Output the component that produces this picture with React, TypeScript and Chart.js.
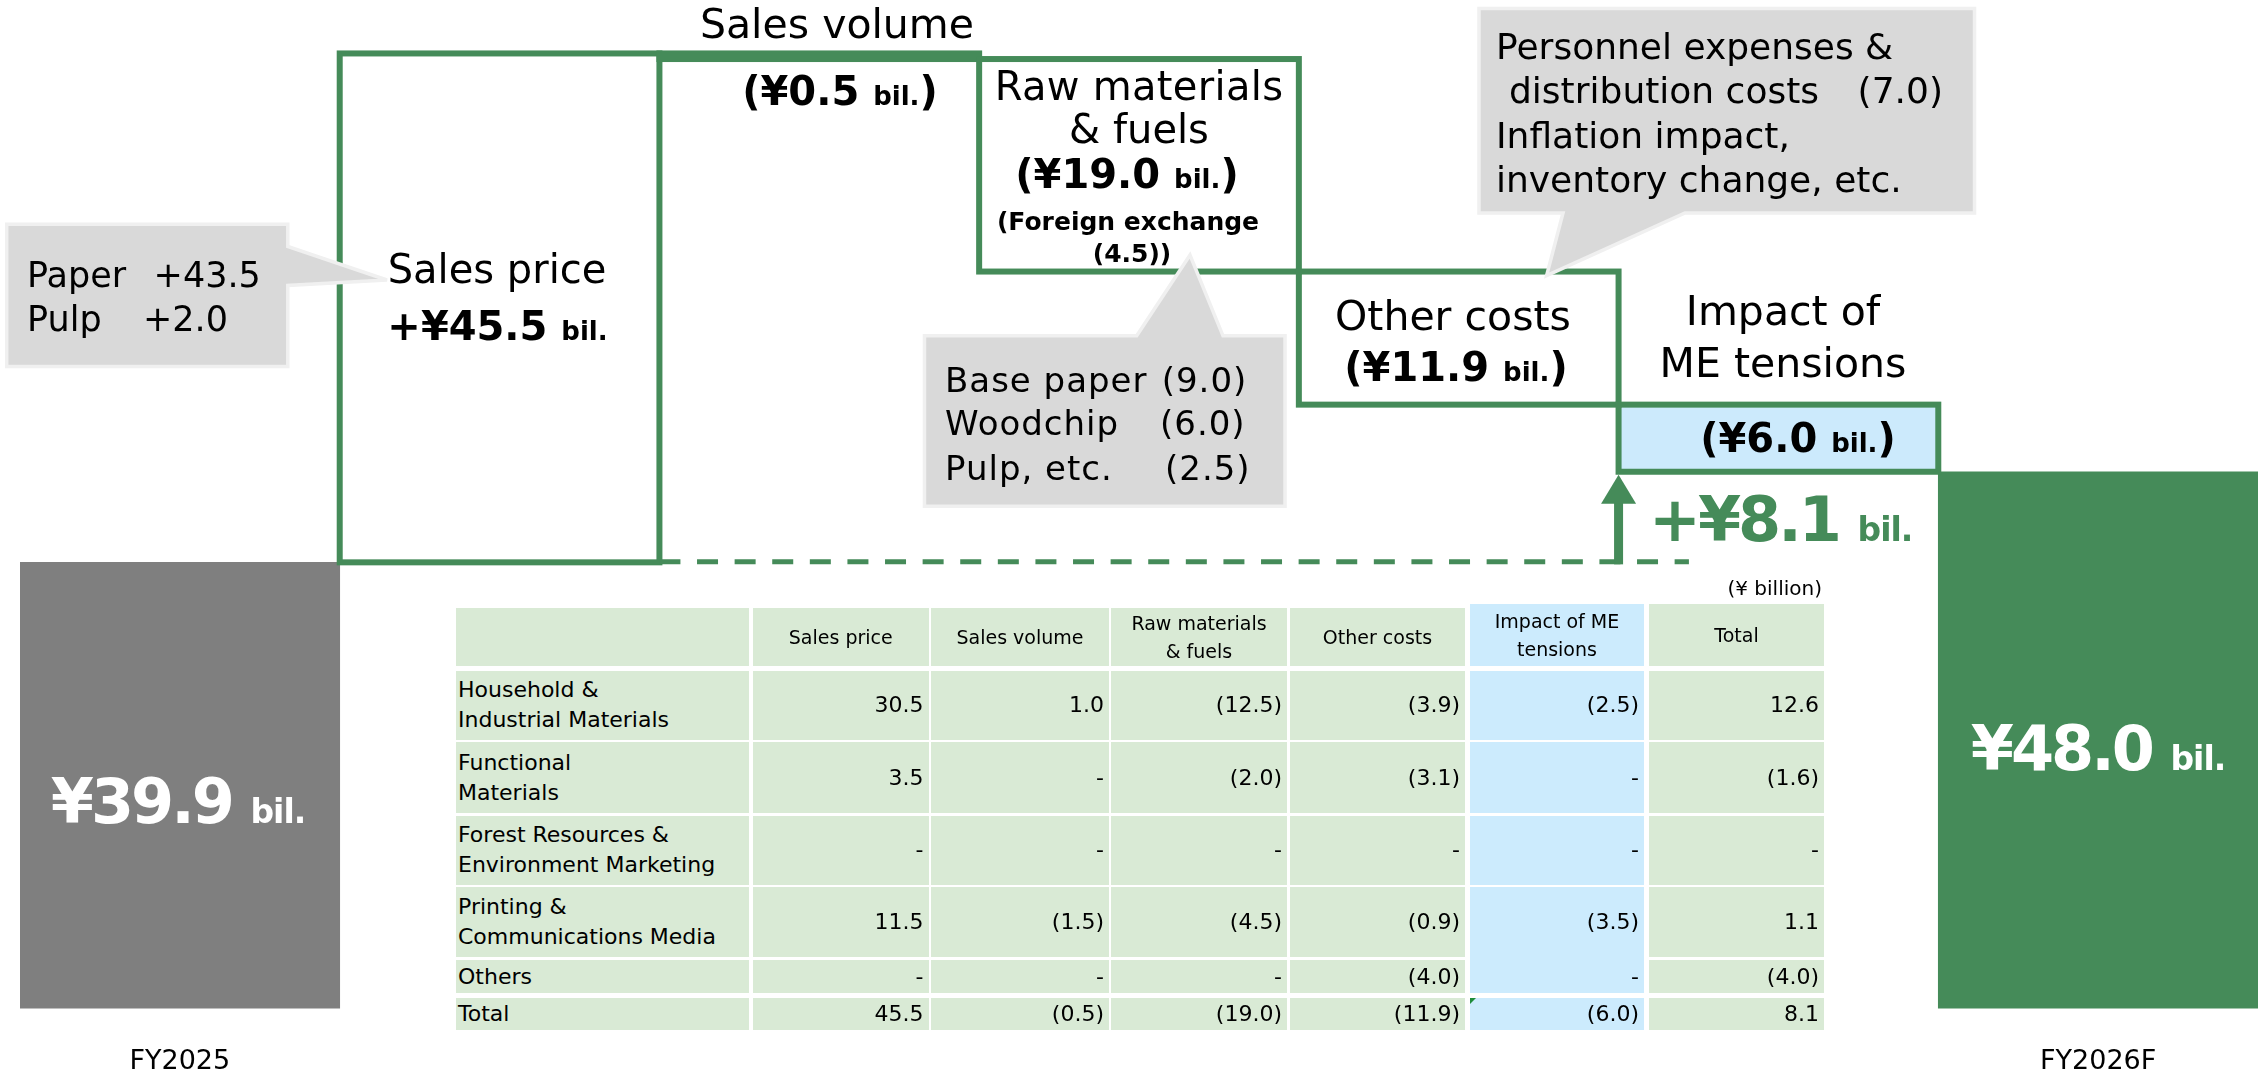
import React, { useEffect, useRef } from "react";
import { Chart, registerables } from "chart.js";

Chart.register(...registerables);

// ---------- data ----------
const categories = ["FY2025", "Sales price", "Sales volume", "Raw materials & fuels", "Other costs", "Impact of ME tensions", "FY2026F"];
const tickLabels = ["FY2025", "", "", "", "", "", "FY2026F"];
const startValue = 39.9;
const deltas = [45.5, -0.5, -19.0, -11.9, -6.0];
const endValue = 48.0;

const segmentNames = [
  "Household &\nIndustrial Materials",
  "Functional\nMaterials",
  "Forest Resources &\nEnvironment Marketing",
  "Printing &\nCommunications Media",
  "Others",
  "Total",
];
const tableHeaders = ["", "Sales price", "Sales volume", "Raw materials\n& fuels", "Other costs", "Impact of ME\ntensions", "Total"];
const salesPriceCol = [30.5, 3.5, null, 11.5, null, 45.5];
const salesVolumeCol = [1.0, null, null, -1.5, null, -0.5];
const rawMaterialsCol = [-12.5, -2.0, null, -4.5, null, -19.0];
const otherCostsCol = [-3.9, -3.1, null, -0.9, -4.0, -11.9];
const meTensionsCol = [-2.5, null, null, -3.5, null, -6.0];
const totalCol = [12.6, -1.6, null, 1.1, -4.0, 8.1];

// ---------- styles ----------
const GREEN = "#458b59";
const GRAY = "#7f7f7f";
const LIGHT_BLUE = "#cceafc";
const TABLE_GREEN = "#d9ead5";
const TABLE_BLUE = "#ccebfd";
const FONT = "'DejaVu Sans', sans-serif";
const barColors = [GRAY, "#ffffff", "#ffffff", "#ffffff", "#ffffff", LIGHT_BLUE, GREEN];
const outlined = [false, true, true, true, true, true, false];

function buildBars(): [number, number][] {
  const out: [number, number][] = [[0, startValue]];
  let cur = startValue;
  for (const d of deltas) {
    const a = cur;
    cur = Math.round((cur + d) * 10) / 10;
    out.push([Math.min(a, cur), Math.max(a, cur)]);
  }
  out.push([0, endValue]);
  return out;
}

const decoPlugin = {
  id: "waterfallDeco",
  afterDatasetsDraw(chart: any) {
    const ctx = chart.ctx;
    const meta = chart.getDatasetMeta(0);
    const ys = chart.scales.y;
    const props = (el: any) => el.getProps(["x", "y", "base", "width"], true);
    ctx.save();
    ctx.strokeStyle = GREEN;
    ctx.lineWidth = 6;
    meta.data.forEach((el: any, i: number) => {
      if (!outlined[i]) return;
      const p = props(el);
      const t = Math.min(p.y, p.base);
      const b = Math.max(p.y, p.base);
      ctx.strokeRect(p.x - p.width / 2, t, p.width, b - t);
    });
    // dashed base-level line
    const lvl = ys.getPixelForValue(startValue) - 0.5;
    const sp = props(meta.data[1]);
    const me = props(meta.data[5]);
    const xStart = sp.x + sp.width / 2;
    const meLeft = me.x - me.width / 2;
    const xEnd = meLeft + me.width * 0.22;
    ctx.setLineDash([21, 16.6]);
    ctx.lineWidth = 5;
    ctx.beginPath();
    ctx.moveTo(xStart, lvl);
    ctx.lineTo(xEnd, lvl);
    ctx.stroke();
    ctx.setLineDash([]);
    // arrow
    const tip = ys.getPixelForValue(endValue) + 3;
    const headH = 29;
    ctx.fillStyle = GREEN;
    ctx.fillRect(meLeft - 4.5, tip + headH - 1, 9, lvl + 2.5 - (tip + headH - 1));
    ctx.beginPath();
    ctx.moveTo(meLeft, tip);
    ctx.lineTo(meLeft + 17.5, tip + headH);
    ctx.lineTo(meLeft - 17.5, tip + headH);
    ctx.closePath();
    ctx.fill();
    ctx.restore();
  },
};

// ---------- text helpers ----------
type Piece = { t: string; size: number; bold?: boolean; ls?: number };
function Txt(props: { x: number; base: number; align?: "center" | "left" | "right"; color?: string; pieces: Piece[] }) {
  const { x, base, align = "center", color = "#000", pieces } = props;
  const big = Math.max(...pieces.map((p) => p.size));
  const style: React.CSSProperties = {
    position: "absolute",
    top: base - 0.846 * big,
    left: align === "right" ? undefined : x,
    right: align === "right" ? 2267 - x : undefined,
    display: "flex",
    alignItems: "baseline",
    whiteSpace: "pre",
    color,
    fontFamily: FONT,
    transform: align === "center" ? "translateX(-50%)" : undefined,
  };
  return (
    <div style={style}>
      {pieces.map((p, i) => (
        <span key={i} style={{ fontSize: p.size, lineHeight: `${p.size}px`, fontWeight: p.bold ? 700 : 400, letterSpacing: p.ls ?? 0, whiteSpace: "pre" }}>
          {p.t}
        </span>
      ))}
    </div>
  );
}

const fmt = (v: number | null) => (v == null ? "-" : v < 0 ? `(${Math.abs(v).toFixed(1)})` : v.toFixed(1));

// table layout
const colX: [number, number][] = [[456, 749], [753, 928.5], [931, 1109], [1111, 1287], [1290, 1465], [1470, 1644], [1649, 1824]];
const rowY: [number, number][] = [[670.7, 740], [742, 813], [815.5, 884.5], [887, 957], [960, 993], [997.8, 1029.6]];

function DataTable() {
  const cols = [salesPriceCol, salesVolumeCol, rawMaterialsCol, otherCostsCol, meTensionsCol, totalCol];
  const cells: React.ReactNode[] = [];
  tableHeaders.forEach((h, c) => {
    const top = c >= 5 ? 604 : 607.6;
    cells.push(
      <div key={`h${c}`} style={{ position: "absolute", left: colX[c][0], top, width: colX[c][1] - colX[c][0], height: 666 - top, background: c === 5 ? TABLE_BLUE : TABLE_GREEN, display: "flex", alignItems: "center", justifyContent: "center", textAlign: "center", fontSize: 19, lineHeight: "28px", whiteSpace: "pre-line" }}>
        {h}
      </div>
    );
  });
  segmentNames.forEach((name, r) => {
    cells.push(
      <div key={`l${r}`} style={{ position: "absolute", left: colX[0][0], top: rowY[r][0], width: colX[0][1] - colX[0][0], height: rowY[r][1] - rowY[r][0], background: TABLE_GREEN, display: "flex", alignItems: "center", paddingLeft: 2, boxSizing: "border-box", fontSize: 22, lineHeight: "30px", whiteSpace: "pre-line" }}>
        {name}
      </div>
    );
    cols.forEach((col, ci) => {
      const c = ci + 1;
      const top = c === 5 && r === 4 ? 957 : rowY[r][0];
      cells.push(
        <div key={`c${r}_${c}`} style={{ position: "absolute", left: colX[c][0], top, width: colX[c][1] - colX[c][0], height: rowY[r][1] - top, background: c === 5 ? TABLE_BLUE : TABLE_GREEN, display: "flex", alignItems: "center", justifyContent: "flex-end", paddingRight: 5, boxSizing: "border-box", fontSize: 22, lineHeight: "30px", paddingTop: top !== rowY[r][0] ? rowY[r][0] - top : 0 }}>
          {fmt(col[r])}
        </div>
      );
    });
  });
  return (
    <div style={{ fontFamily: FONT, color: "#000" }}>
      {cells}
      <div style={{ position: "absolute", left: colX[5][0], top: rowY[5][0], width: 0, height: 0, borderTop: "6px solid #1e8c3a", borderRight: "6px solid transparent" }} />
      <Txt x={1822} base={594.5} align="right" pieces={[{ t: "(¥ billion)", size: 20 }]} />
    </div>
  );
}

function Callouts() {
  return (
    <svg width={2267} height={1075} style={{ position: "absolute", left: 0, top: 0, pointerEvents: "none" }}>
      <path d="M6.7,224.3 H287.8 V246.5 L387,280 L287.8,285.5 V366.5 H6.7 Z" fill="#d9d9d9" stroke="#f0f0f0" strokeWidth={3.5} />
      <path d="M924.5,335.8 H1136.7 L1190,255 L1223,335.8 H1285 V506.2 H924.5 Z" fill="#d9d9d9" stroke="#f0f0f0" strokeWidth={3.5} />
      <path d="M1479,8.5 H1974.5 V213 H1685 L1546.6,275.6 L1563,213 H1479 Z" fill="#d9d9d9" stroke="#f0f0f0" strokeWidth={3.5} />
    </svg>
  );
}

function Labels() {
  const B = (t: string, size = 40, ls = 0): Piece => ({ t, size, bold: true, ls });
  const bil = (size = 26, ls = 0): Piece => ({ t: "bil.", size, bold: true, ls });
  return (
    <div>
      <Txt x={837} base={38.8} pieces={[{ t: "Sales volume", size: 41 }]} />
      <Txt x={840} base={105} pieces={[B("(¥0.5 "), bil(), B(")")]} />
      <Txt x={497} base={283.3} pieces={[{ t: "Sales price", size: 40 }]} />
      <Txt x={497.5} base={340} pieces={[B("+¥45.5 "), bil()]} />
      <Txt x={1139} base={100} pieces={[{ t: "Raw materials", size: 40, ls: 0.3 }]} />
      <Txt x={1139} base={143.3} pieces={[{ t: "& fuels", size: 40 }]} />
      <Txt x={1127} base={188.3} pieces={[B("(¥19.0 "), bil(), B(")")]} />
      <Txt x={1128} base={230} pieces={[{ t: "(Foreign exchange", size: 25, bold: true }]} />
      <Txt x={1132} base={261.7} pieces={[{ t: "(4.5))", size: 25, bold: true }]} />
      <Txt x={1453} base={331} pieces={[{ t: "Other costs", size: 41 }]} />
      <Txt x={1456} base={381} pieces={[B("(¥11.9 "), bil(), B(")")]} />
      <Txt x={1783} base={325.6} pieces={[{ t: "Impact of", size: 41 }]} />
      <Txt x={1783} base={377.4} pieces={[{ t: "ME tensions", size: 41 }]} />
      <Txt x={1798} base={451.7} pieces={[B("(¥6.0 "), bil(), B(")")]} />
      <Txt x={1649} base={541.7} align="left" color={GREEN} pieces={[B("+¥8.1 ", 62, -3), bil(33, -1)]} />
      <Txt x={178} base={823} color="#ffffff" pieces={[B("¥39.9 ", 62, -3), bil(33, -1)]} />
      <Txt x={2098} base={770} color="#ffffff" pieces={[B("¥48.0 ", 62, -3), bil(33, -1)]} />
      {/* callout texts */}
      <Txt x={27} base={287.3} align="left" pieces={[{ t: "Paper", size: 35 }]} />
      <Txt x={153.6} base={287.3} align="left" pieces={[{ t: "+43.5", size: 35 }]} />
      <Txt x={27} base={331.7} align="left" pieces={[{ t: "Pulp", size: 35 }]} />
      <Txt x={143} base={331.7} align="left" pieces={[{ t: "+2.0", size: 35 }]} />
      <Txt x={945} base={391.7} align="left" pieces={[{ t: "Base paper", size: 34, ls: 1 }]} />
      <Txt x={1161.7} base={391.7} align="left" pieces={[{ t: "(9.0)", size: 34, ls: 1 }]} />
      <Txt x={945} base={435} align="left" pieces={[{ t: "Woodchip", size: 34, ls: 1 }]} />
      <Txt x={1160} base={435} align="left" pieces={[{ t: "(6.0)", size: 34, ls: 1 }]} />
      <Txt x={945} base={480} align="left" pieces={[{ t: "Pulp, etc.", size: 34, ls: 1 }]} />
      <Txt x={1165} base={480} align="left" pieces={[{ t: "(2.5)", size: 34, ls: 1 }]} />
      <Txt x={1496} base={59} align="left" pieces={[{ t: "Personnel expenses &", size: 36 }]} />
      <Txt x={1509} base={103.6} align="left" pieces={[{ t: "distribution costs", size: 36 }]} />
      <Txt x={1857.6} base={103.6} align="left" pieces={[{ t: "(7.0)", size: 36 }]} />
      <Txt x={1496} base={148} align="left" pieces={[{ t: "Inflation impact,", size: 36 }]} />
      <Txt x={1496} base={192.4} align="left" pieces={[{ t: "inventory change, etc.", size: 36 }]} />
    </div>
  );
}

export default function App() {
  const canvasRef = useRef<HTMLCanvasElement | null>(null);
  useEffect(() => {
    if (!canvasRef.current) return;
    Chart.defaults.font.family = FONT;
    const chart = new Chart(canvasRef.current, {
      type: "bar",
      data: {
        labels: categories,
        datasets: [
          {
            data: buildBars() as any,
            backgroundColor: barColors,
            borderWidth: 0,
            barPercentage: 1,
            categoryPercentage: 1,
          },
        ],
      },
      options: {
        responsive: false,
        animation: false,
        layout: { padding: { left: 20, right: 9, top: 2, bottom: 0 } },
        plugins: { legend: { display: false }, tooltip: { enabled: false } },
        scales: {
          x: {
            grid: { display: false, drawTicks: false },
            border: { display: false },
            afterFit: (scale: any) => {
              scale.height = 66.4;
            },
            ticks: {
              font: { family: FONT, size: 27, lineHeight: 1.2 },
              color: "#000",
              padding: 37,
              maxRotation: 0,
              autoSkip: false,
              callback: (_v: any, i: number) => tickLabels[i],
            },
          },
          y: { display: false, min: 0, max: 90 },
        },
      },
      plugins: [decoPlugin],
    });
    return () => chart.destroy();
  }, []);

  return (
    <div style={{ position: "absolute", left: 0, top: 0, width: 2267, height: 1075, overflow: "hidden", background: "#fff", fontFamily: FONT }}>
      <canvas ref={canvasRef} width={2267} height={1075} style={{ position: "absolute", left: 0, top: 0, width: 2267, height: 1075 }} />
      <Callouts />
      <DataTable />
      <Labels />
    </div>
  );
}
